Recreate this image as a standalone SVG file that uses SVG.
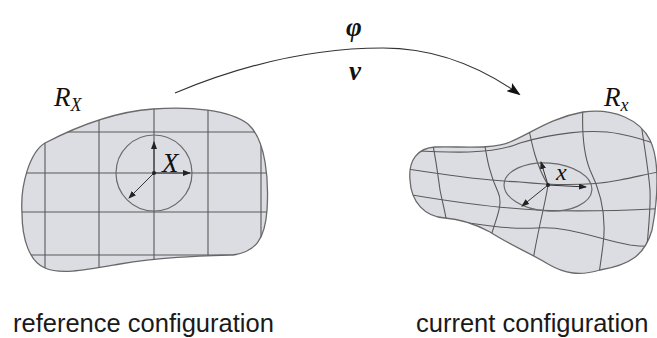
<svg xmlns="http://www.w3.org/2000/svg" width="657" height="338" viewBox="0 0 657 338">
<style>
.body{fill:#dcdce3;stroke:#6a6a6a;stroke-width:1.3}
.grid{fill:none;stroke:#5a5a5a;stroke-width:1.1}
.ring{fill:none;stroke:#6a6a6a;stroke-width:1.2}
.vec{fill:none;stroke:#333;stroke-width:1}
.math{font-family:"Liberation Serif","DejaVu Serif",serif;font-style:italic;fill:#111}
.cap{font-family:"Liberation Sans",Arial,sans-serif;font-size:25.5px;fill:#1a1a1a}
.conn{fill:none;stroke:#333;stroke-width:1.2}
</style>
<defs>
<marker id="big" viewBox="0 0 14 10" refX="12" refY="5" markerWidth="14" markerHeight="10" markerUnits="userSpaceOnUse" orient="auto">
<path d="M0,0 L14,5 L0,10 L3,5 Z" fill="#111"/>
</marker>
<marker id="tip" viewBox="0 0 8 6" refX="7" refY="3" markerWidth="8" markerHeight="6" markerUnits="userSpaceOnUse" orient="auto">
<path d="M0,0 L8,3 L0,6 Z" fill="#222"/>
</marker>
<clipPath id="clipL">
<path d="M22,213 C20,185 30,152 45,143 C70,130 110,112 153,109 C190,106 230,110 248,124 C266,140 269,180 267,210 C265,240 255,252 233,255 C200,256 160,257 120,264 C85,270 60,275 45,268 C30,262 22,240 22,213 Z"/>
</clipPath>
<clipPath id="clipR">
<path d="M410,180 C408,160 418,148 435,147 C460,146 490,150 510,142 C530,134 550,118 583,112 C615,108 640,120 650,140 C660,160 658,200 652,230 C645,255 630,265 600,270 C580,276 565,274 548,264 C530,253 510,245 490,232 C475,224 460,219 445,218 C425,217 411,202 410,180 Z"/>
</clipPath>
</defs>

<g id="connectors">
<path class="conn" d="M175,93 C230,70 300,48 383,48 C440,48 485,70 519,94" marker-end="url(#big)"/>
</g>

<g id="label-phi"><text class="math" x="354" y="36" font-size="27" font-weight="bold" text-anchor="middle" font-family="DejaVu Serif">φ</text></g>
<g id="label-v"><text class="math" x="355" y="80" font-size="27" font-weight="bold" text-anchor="middle">v</text></g>

<g id="reference-body">
<path class="body" d="M22,213 C20,185 30,152 45,143 C70,130 110,112 153,109 C190,106 230,110 248,124 C266,140 269,180 267,210 C265,240 255,252 233,255 C200,256 160,257 120,264 C85,270 60,275 45,268 C30,262 22,240 22,213 Z"/>
<g clip-path="url(#clipL)">
<path class="grid" d="M45,90 V290 M99,90 V290 M154,90 V290 M208,90 V290 M261,90 V290 M10,132 H280 M10,173 H280 M10,212 H280 M10,255 H280"/>
</g>
<circle class="ring" cx="154" cy="173" r="38"/>
<path class="vec" d="M154,173 V142" marker-end="url(#tip)"/>
<path class="vec" d="M154,173 H190" marker-end="url(#tip)"/>
<path class="vec" d="M154,173 L129,198" marker-end="url(#tip)"/>
<circle cx="154" cy="173" r="2" fill="#222"/>
<text class="math" x="162" y="172" font-size="27">X</text>
<text class="math" x="54" y="106" font-size="27">R<tspan font-size="18" dy="5">X</tspan></text>
</g>

<g id="current-body">
<path class="body" d="M410,180 C408,160 418,148 435,147 C460,146 490,150 510,142 C530,134 550,118 583,112 C615,108 640,120 650,140 C660,160 658,200 652,230 C645,255 630,265 600,270 C580,276 565,274 548,264 C530,253 510,245 490,232 C475,224 460,219 445,218 C425,217 411,202 410,180 Z"/>
<g clip-path="url(#clipR)">
<path class="grid" d="M400,150 C440,152 490,156 520,143 C550,134 590,128 620,134 C640,138 655,143 670,150"/>
<path class="grid" d="M400,168 C430,172 470,180 520,182 C550,185 590,186 620,180 C640,176 655,172 670,170"/>
<path class="grid" d="M400,193 C430,198 470,205 510,208 C550,212 600,212 670,208"/>
<path class="grid" d="M430,218 C470,222 500,230 537,228 C570,226 600,240 630,245 C645,247 660,246 670,244"/>
<path class="grid" d="M432,140 C436,160 438,175 440,190 C443,205 446,215 448,230"/>
<path class="grid" d="M484,140 C487,160 490,175 498,192 C504,205 495,220 490,240"/>
<path class="grid" d="M528,125 C532,145 536,165 548,185 C545,205 540,220 533,260"/>
<path class="grid" d="M583,105 C582,125 582,150 590,170 C600,190 607,215 603,245 C601,260 600,268 598,280"/>
<path class="grid" d="M640,115 C643,140 648,165 650,190 C651,210 648,230 646,260"/>
</g>
<ellipse class="ring" cx="548" cy="187" rx="44" ry="24" transform="rotate(4 548 187)"/>
<path class="vec" d="M548,185 L541,162" marker-end="url(#tip)"/>
<path class="vec" d="M548,185 L586,187" marker-end="url(#tip)"/>
<path class="vec" d="M548,185 L522,206" marker-end="url(#tip)"/>
<circle cx="548" cy="185" r="2" fill="#222"/>
<text class="math" x="556" y="180" font-size="24">x</text>
<text class="math" x="604" y="106" font-size="27">R<tspan font-size="18" dy="5">x</tspan></text>
</g>

<g id="captions">
<text class="cap" x="13" y="332">reference configuration</text>
<text class="cap" x="416" y="332">current configuration</text>
</g>
</svg>
